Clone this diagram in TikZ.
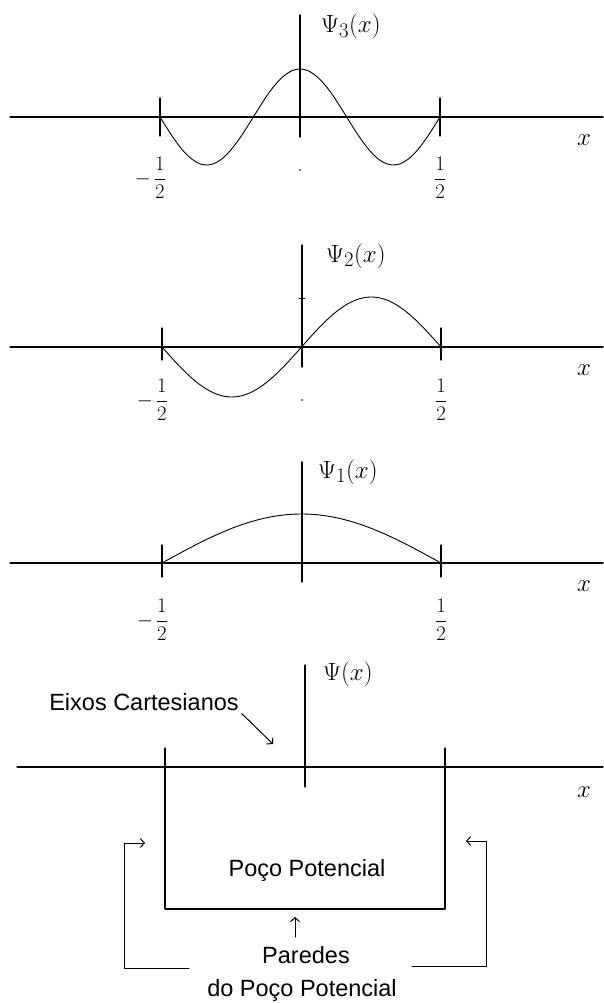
\documentclass[tikz,border=0pt]{standalone}
\usepackage[no-math]{fontspec}
\setmainfont{Liberation Sans}
\usetikzlibrary{arrows.meta}
\begin{document}
\begin{tikzpicture}[x=1pt,y=-1pt,line cap=round,line join=round,
  axis/.style={line width=1.3pt},
  wave/.style={line width=0.9pt,smooth},
  pointer/.style={line width=1pt,-{Straight Barb[length=4pt,width=9pt]}},
  fnlabel/.style={font=\fontsize{28}{32}\selectfont,anchor=base west,inner sep=0pt},
  xlabel/.style={font=\fontsize{26}{30}\selectfont,inner sep=0pt},
  half/.style={font=\fontsize{21}{25}\selectfont,inner sep=0pt},
  caption/.style={font=\fontsize{23.5}{27}\selectfont,inner sep=0pt}]
  \useasboundingbox (0,0) rectangle (603,1003);
  % Psi_3
  \draw[axis] (10,117)--(603,117);
  \draw[axis] (300,15)--(300,137);
  \draw[axis] (160,98)--(160,136);
  \draw[axis] (440,98)--(440,136);
  \draw[wave,domain=160:440,samples=90] plot (\x,{117-48*cos(1.928571*(\x-300))});
  \fill (300,70) circle (1.3pt);
  \fill (253,117) circle (1.3pt);
  \fill (347,117) circle (1.3pt);
  \fill (300,170) circle (0.8pt);
  \node[fnlabel] (psi3) at (321,33) {$\Psi_3(x)$};
  \node[xlabel] (x3) at (584,140) {$x$};
  \node[half] (m3) at (160,178) {$\displaystyle\frac{1}{2}$};
  \node[half] (m3s) at (143,179) {$-$};
  \node[half] (p3) at (440,178) {$\displaystyle\frac{1}{2}$};
  % Psi_2
  \draw[axis] (10,347)--(603,347);
  \draw[axis] (302,245)--(302,367);
  \draw[axis] (162,328)--(162,360);
  \draw[axis] (441,328)--(441,360);
  \draw (299,298)--(305,298);
  \draw[wave,domain=162:441,samples=90] plot (\x,{347-50*sin(1.290323*(\x-301.5))});
  \fill (302,400) circle (0.8pt);
  \node[fnlabel] (psi2) at (326,262) {$\Psi_2(x)$};
  \node[xlabel] (x2) at (584,370) {$x$};
  \node[half] (m2) at (162,400) {$\displaystyle\frac{1}{2}$};
  \node[half] (m2s) at (145,401) {$-$};
  \node[half] (p2) at (441,400) {$\displaystyle\frac{1}{2}$};
  % Psi_1
  \draw[axis] (10,563)--(603,563);
  \draw[axis] (302,462)--(302,582);
  \draw[axis] (162,545)--(162,577);
  \draw[axis] (441,545)--(441,577);
  \draw[wave,domain=162:441,samples=90] plot (\x,{563-49*cos(0.645161*(\x-301.5))});
  \node[fnlabel] (psi1) at (318,478) {$\Psi_1(x)$};
  \node[xlabel] (x1) at (584,586) {$x$};
  \node[half] (m1) at (162,620) {$\displaystyle\frac{1}{2}$};
  \node[half] (m1s) at (145,621) {$-$};
  \node[half] (p1) at (441,620) {$\displaystyle\frac{1}{2}$};
  % poco
  \draw[axis] (17,767)--(603,767);
  \draw[axis] (305,665)--(305,787);
  \draw[axis] (165,748)--(165,909)--(445,909)--(445,748);
  \node[fnlabel] (psi0) at (323,680) {$\Psi(x)$};
  \node[xlabel] (x0) at (584,792) {$x$};
  \node[caption] (eixos) at (144,702) {Eixos Cartesianos};
  \coordinate (eixostip) at (273,744);
  \draw[pointer,shorten <=4pt] (eixos.south east) -- (eixostip);
  \node[caption] (well) at (307,870) {Poço Potencial};
  \node[caption] (walls) at (306,955) {Paredes};
  \node[caption] (wallsb) at (302,990) {do Poço Potencial};
  \coordinate (up0) at (295,937);
  \coordinate (up1) at (295,917);
  \draw[pointer] (up0) -- (up1);
  % colchetes
  \coordinate (l0) at (189,968);
  \coordinate (l1) at (124,968);
  \coordinate (l2) at (124,843);
  \coordinate (l3) at (145,843);
  \draw[pointer] (l0)--(l1)--(l2)--(l3);
  \coordinate (r0) at (412,966);
  \coordinate (r1) at (486,966);
  \coordinate (r2) at (486,841);
  \coordinate (r3) at (466,841);
  \draw[pointer] (r0)--(r1)--(r2)--(r3);
\end{tikzpicture}
\end{document}
